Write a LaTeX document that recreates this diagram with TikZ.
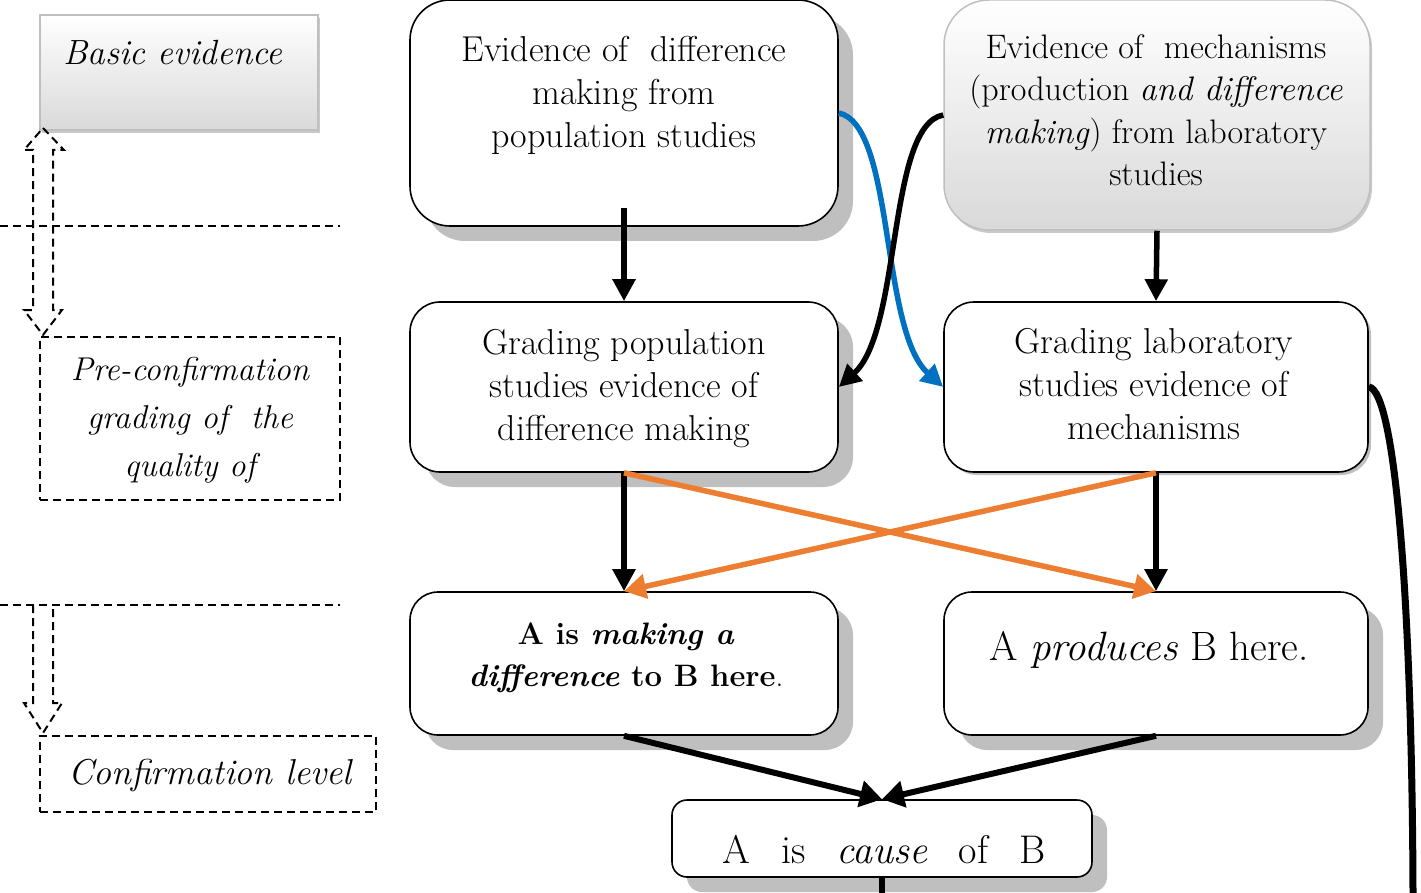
\documentclass[tikz,border=0pt]{standalone}
\usetikzlibrary{arrows.meta,shadows}
\definecolor{shadowgray}{HTML}{BFBFBF}
\definecolor{softgray}{HTML}{D9D9D9}
\definecolor{linkblue}{HTML}{0070C0}
\definecolor{linkorange}{HTML}{ED7D31}
\begin{document}
\begin{tikzpicture}[x=1pt,y=-1pt,
  flowbox/.style={draw, line width=1.6pt, fill=white, inner sep=0pt,
    drop shadow={shadow xshift=15pt, shadow yshift=-15pt, fill=shadowgray, opacity=1}},
  thinshadow/.style={draw, line width=1.6pt, fill=white, inner sep=0pt,
    drop shadow={shadow xshift=3pt, shadow yshift=-3pt, fill=shadowgray, opacity=1}},
  shadebox/.style={draw=shadowgray, line width=1.5pt, top color=white, bottom color=softgray,
    inner sep=0pt, drop shadow={shadow xshift=2pt, shadow yshift=-3pt, fill=black!30, opacity=.7}},
  bodytext/.style={align=center, inner sep=0pt, font=\fontsize{36}{43}\selectfont},
  sidetext/.style={align=center, inner sep=0pt, font=\itshape\fontsize{33}{48}\selectfont},
  dashline/.style={dash pattern=on 8pt off 5pt, line width=2pt},
  flow/.style={line width=5.5pt, -{Triangle[width=22pt,length=22pt]}},
  heavyflow/.style={line width=6pt, -{Triangle[width=26pt,length=22pt]}},
  crossflow/.style={line width=5.5pt, linkorange, -{Triangle[width=24pt,length=22pt]}},
  curveflow/.style={line width=5.5pt, -{Triangle[width=22pt,length=22pt]}}
]
\useasboundingbox (0,0) rectangle (1421,893);

% ---------- left-hand level markers ----------
\node[shadebox, rounded corners=0pt, minimum width=278pt, minimum height=115pt] (basic) at (179,72.5) {};
\node[sidetext, font=\itshape\fontsize{35}{43}\selectfont] (basictxt) at (173,53) {Basic evidence};

\draw[dashline] (0,226) -- (340,226);
\draw[dashline] (0,605) -- (340,605);

% hollow double arrow between basic evidence and pre-confirmation
\draw[dashline, line join=miter]
  (43,128) -- (64,150) -- (53,150) -- (53,310) -- (62,310) -- (43,335)
  -- (24,310) -- (33,310) -- (33,150) -- (24,150) -- cycle;
% hollow arrow down to the confirmation level
\draw[dashline, line join=miter]
  (33,605) -- (33,703) -- (24,703) -- (43,733) -- (62,703) -- (53,703) -- (53,605);

\node[draw, dashline, minimum width=300pt, minimum height=163pt, inner sep=0pt] (pre) at (190,418.5) {};
\node[sidetext] (pretxt) at (190,420) {Pre-confirmation\\grading of~ the\\quality of};

\node[draw, dashline, minimum width=336pt, minimum height=76pt, inner sep=0pt] (conf) at (208,774) {};
\node[sidetext, font=\itshape\fontsize{36}{43}\selectfont] (conftxt) at (210,775) {Confirmation level};

% ---------- evidence boxes ----------
\node[flowbox, rounded corners=40pt, minimum width=428pt, minimum height=226pt] (b1) at (624,113) {};
\node[bodytext] (b1txt) at (624,95) {Evidence of~ difference\\making from\\population studies};

\node[shadebox, rounded corners=45pt, minimum width=426pt, minimum height=230pt] (b2) at (1157,115) {};
\node[bodytext, font=\fontsize{34}{42.5}\selectfont] (b2txt) at (1156,110) {Evidence of~ mechanisms\\(production \textit{and difference}\\\textit{making}) from laboratory\\studies};

% ---------- grading boxes ----------
\node[flowbox, rounded corners=30pt, minimum width=428pt, minimum height=170pt] (b3) at (624,387) {};
\node[bodytext] (b3txt) at (624,389) {Grading population\\studies evidence of\\difference making};

\node[thinshadow, rounded corners=30pt, minimum width=424pt, minimum height=170pt] (b4) at (1156,387) {};
\node[bodytext] (b4txt) at (1154,384) {Grading laboratory\\studies evidence of\\mechanisms};

% ---------- confirmation boxes ----------
\node[flowbox, rounded corners=28pt, minimum width=428pt, minimum height=143pt] (b5) at (624,663.5) {};
\node[bodytext, font=\fontsize{31}{42}\selectfont] (b5txt) at (626,658)
  {\textbf{A is \textit{making a}}\\\textbf{\textit{difference} to B here}.};

\node[flowbox, rounded corners=28pt, minimum width=424pt, minimum height=143pt] (b6) at (1156,663.5) {};
\node[bodytext, font=\fontsize{41}{48}\selectfont] (b6txt) at (1149,650) {A \textit{produces} B here.};

\node[flowbox, rounded corners=15pt, minimum width=420pt, minimum height=77pt] (b7) at (882,838.5) {};
\node[bodytext, font=\fontsize{40}{48}\selectfont] (b7txt) at (884,850)
  {A\hspace{31pt}is\hspace{31pt}\textit{cause}\hspace{31pt}of\hspace{31pt}B};

% ---------- connectors ----------
\coordinate (b7tail) at (882,893);
\coordinate (b4tail) at (1413,893);

\draw[flow] ([yshift=19pt]b1.south) -- (b3.north);
\draw[flow] (b2.south) -- (b4.north);

\draw[curveflow, linkblue] (b1.east) .. controls (895,125) and (880,330) .. (b4.west);
\draw[curveflow, black] (b2.west) .. controls (887,125) and (902,330) .. (b3.east);

\draw[flow] (b3.south) -- (b5.north);
\draw[flow] (b4.south) -- (b6.north);
\draw[crossflow] (b3.south) -- (b6.north);
\draw[crossflow] (b4.south) -- (b5.north);

\draw[heavyflow] (b5.south) -- (b7.north);
\draw[heavyflow] (b6.south) -- (b7.north);
\draw[line width=6pt] (b7.south) -- (b7tail);

\draw[line width=7pt] (b4.east) .. controls (1395,390) and (1412,600) .. (b4tail);
\end{tikzpicture}
\end{document}
